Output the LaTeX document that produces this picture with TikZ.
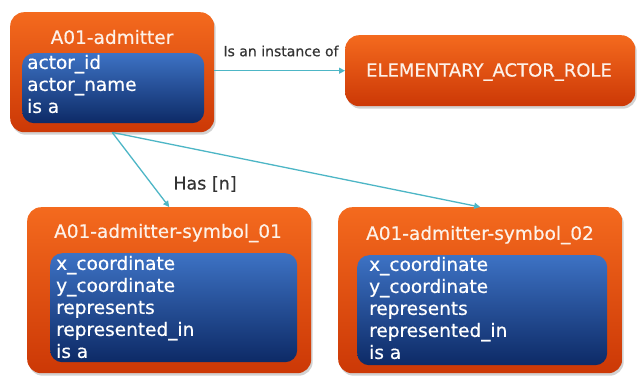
\documentclass[tikz,border=0pt]{standalone}
\usepackage{fontspec}
\setmainfont{DejaVu Sans}
\newfontfamily\heavyfont[FakeBold=0.5]{DejaVu Sans}
\usetikzlibrary{shadows,arrows.meta}
\definecolor{orTop}{HTML}{F46A1E}
\definecolor{orBot}{HTML}{CC3806}
\definecolor{blTop}{HTML}{3D72C4}
\definecolor{blBot}{HTML}{0D2A66}
\definecolor{conn}{HTML}{4DB6C6}
\definecolor{lbl}{HTML}{333333}
\definecolor{cream}{HTML}{FDF1E8}
\begin{document}
\begin{tikzpicture}[x=1pt,y=-1pt,
  outerbox/.style={rounded corners=14pt, top color=orTop, bottom color=orBot, draw=none,
    drop shadow={opacity=0.35, shadow xshift=1.5pt, shadow yshift=-2.5pt}, inner sep=0pt, anchor=north west},
  innerbox/.style={rounded corners=12pt, top color=blTop, bottom color=blBot, draw=none, inner sep=0pt, anchor=north west},
  titletext/.style={text=cream, font=\heavyfont\fontsize{18.5}{22}\selectfont, inner sep=0pt},
  attrtext/.style={text=white, font=\heavyfont\fontsize{18.5}{22}\selectfont, align=left, anchor=west, inner sep=0pt},
  conlabel/.style={text=lbl, inner sep=0pt},
  connector/.style={draw=conn, line width=1.3pt, -{Triangle[length=6pt,width=6pt]}}
]
\useasboundingbox (0,0) rectangle (643,381);
\fill[white] (0,0) rectangle (643,381);

% A01-admitter
\node[outerbox, minimum width=204pt, minimum height=120pt] (A) at (10,12) {};
\node[innerbox, minimum width=182pt, minimum height=70pt] (Ai) at (22,53) {};
\node[titletext] (At) at (112,37) {A01-admitter};
\node[attrtext] (Aa) at (27,84) {actor\_id\\actor\_name\\is a};

% ELEMENTARY_ACTOR_ROLE
\node[outerbox, minimum width=290pt, minimum height=71pt] (E) at (345,35) {};
\node[titletext, font=\heavyfont\fontsize{18}{22}\selectfont] (Et) at (489,72) {ELEMENTARY\_ACTOR\_ROLE};

% symbol_01
\node[outerbox, minimum width=284pt, minimum height=166pt] (S1) at (27,207) {};
\node[innerbox, minimum width=247pt, minimum height=109pt] (S1i) at (50,253) {};
\node[titletext] (S1t) at (168,233) {A01-admitter-symbol\_01};
\node[attrtext] (S1a) at (56,307) {x\_coordinate\\y\_coordinate\\represents\\represented\_in\\is a};

% symbol_02
\node[outerbox, minimum width=284pt, minimum height=166pt] (S2) at (338,207) {};
\node[innerbox, minimum width=250pt, minimum height=110pt] (S2i) at (357,255) {};
\node[titletext] (S2t) at (480,235) {A01-admitter-symbol\_02};
\node[attrtext] (S2a) at (369,308) {x\_coordinate\\y\_coordinate\\represents\\represented\_in\\is a};

% connectors
\draw[connector] (A.east |- E.west) -- (E.west);
\node[conlabel, font=\heavyfont\fontsize{14}{16}\selectfont] (L1) at (281,51) {Is an instance of};
\draw[connector] (A.south) -- (S1.north);
\draw[connector] (A.south) -- (S2.north);
\node[conlabel, font=\heavyfont\fontsize{17.5}{20}\selectfont] (L2) at (205,184) {Has [n]};
\end{tikzpicture}
\end{document}
